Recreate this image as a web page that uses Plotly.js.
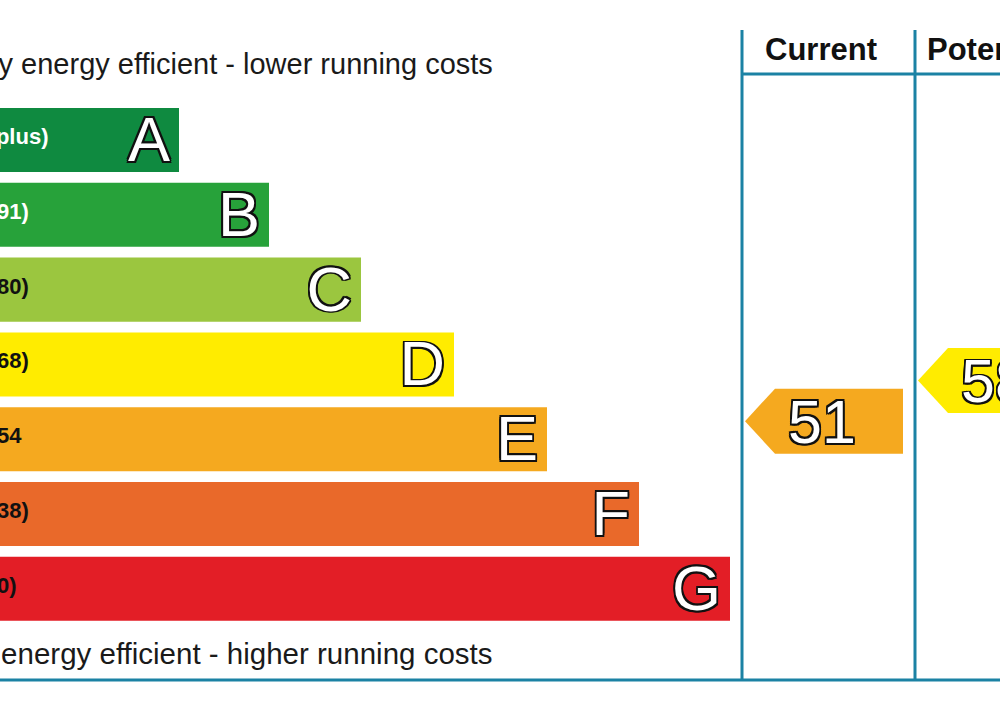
<!DOCTYPE html>
<html><head><meta charset="utf-8">
<script src="https://cdn.plot.ly/plotly-3.0.1.min.js"></script>
<style>html,body{margin:0;padding:0;background:#fff;overflow:hidden}#chart{width:1000px;height:707px}</style>
</head><body><div id="chart"></div>
<script>
// Energy efficiency rating bands
const bands = ['A', 'B', 'C', 'D', 'E', 'F', 'G'];
const bandRanges = ['(92 plus)', '(81-91)', '(69-80)', '(55-68)', '(39-54', '(21-38)', '(1-20)'];
const bandLow = [92, 81, 69, 55, 39, 21, 1];
const bandHigh = [100, 91, 80, 68, 54, 38, 20];
const barLength = [229, 319, 411, 504, 597, 689, 780];

// Ratings shown in the two columns
const columnTitles = ['Current', 'Potential'];
const ratings = [51, 58];
const ratingBand = ['E', 'D'];

const captions = ['Very energy efficient - lower running costs', 'Not energy efficient - higher running costs'];

// Styling
const bandColors = ['#0f8a40', '#27a23a', '#9bc63f', '#ffec00', '#f5a91f', '#e9692a', '#e31e26'];
const rangeTextColors = ['#ffffff', '#ffffff', '#111111', '#111111', '#111111', '#111111', '#111111'];
const frameColor = '#1b82a4';
const FONT = 'Liberation Sans, Arial, sans-serif';
const outline = (w) => [
  [-w, -w], [w, -w], [-w, w], [w, w], [0, w], [0, -w], [w, 0], [-w, 0]
].map(([a, b]) => `${a}px ${b}px 0 #111`).join(', ');

// Geometry (x in chart units, y in row units with A at 0)
const BAR_H = 0.856;
const colLeft = [792, 965];
const colRight = [965, 1138];
const yTop = -1.47, yHeadLine = -0.882, yBottom = 7.22;

const rows = bands.map((_, i) => i);

const traces = [];

// Band bars
traces.push({
  type: 'bar', orientation: 'h',
  y: rows, x: barLength, base: 0, width: BAR_H,
  marker: {color: bandColors, line: {width: 0}},
  hoverinfo: 'skip'
});

// Range labels at the left of each bar
traces.push({
  type: 'scatter', mode: 'text',
  x: bands.map(() => 8), y: rows.map(r => r - 0.02),
  text: bandRanges, textposition: 'middle right',
  textfont: {family: FONT, size: 22, weight: 700, color: rangeTextColors},
  cliponaxis: true, hoverinfo: 'skip'
});

// Band letters at the right end of each bar
traces.push({
  type: 'scatter', mode: 'text',
  x: barLength.map(v => v - 9), y: rows.map(r => r + 0.07),
  text: bands, textposition: 'middle left',
  textfont: {family: FONT, size: 63, color: '#ffffff', shadow: outline(1.8)},
  cliponaxis: true, hoverinfo: 'skip'
});

// Captions above and below the bars
traces.push({
  type: 'scatter', mode: 'text',
  x: [5, -3], y: [-0.98, 6.9],
  text: captions, textposition: 'middle right',
  textfont: {family: FONT, size: [29, 29.5], color: '#1a1a1a'},
  cliponaxis: true, hoverinfo: 'skip'
});

// Column headers
traces.push({
  type: 'scatter', mode: 'text',
  x: [815, 977], y: [-1.18, -1.18],
  text: columnTitles, textposition: 'middle right',
  textfont: {family: FONT, size: 31, weight: 700, color: '#111111'},
  cliponaxis: true, hoverinfo: 'skip'
});

// Rating arrows, placed inside their band row according to the value
ratings.forEach((r, k) => {
  const i = bands.indexOf(ratingBand[k]);
  const frac = (r - bandLow[i] + 0.5) / (bandHigh[i] - bandLow[i] + 1);
  const yc = i + (0.5 - frac) * BAR_H;
  const half = 0.435;
  const tip = colLeft[k] + 3, notch = colLeft[k] + 33, right = colRight[k] - 12;
  traces.push({
    type: 'scatter', mode: 'lines', fill: 'toself',
    x: [tip, notch, right, right, notch, tip],
    y: [yc, yc - half, yc - half, yc + half, yc + half, yc],
    fillcolor: bandColors[i], line: {width: 0, color: bandColors[i]},
    cliponaxis: true, hoverinfo: 'skip'
  });
  traces.push({
    type: 'scatter', mode: 'text',
    x: [(tip + right) / 2 - 2], y: [yc + 0.09],
    text: [String(r)], textposition: 'middle center',
    textfont: {family: FONT, size: 61, color: '#ffffff', shadow: outline(1.8)},
    cliponaxis: true, hoverinfo: 'skip'
  });
});

const line = (x0, y0, x1, y1) => ({
  type: 'line', xref: 'x', yref: 'y', x0, y0, x1, y1,
  line: {color: frameColor, width: 3}, layer: 'above'
});

const layout = {
  width: 1000, height: 707,
  margin: {l: 0, r: 0, t: 0, b: 0, pad: 0},
  paper_bgcolor: '#ffffff', plot_bgcolor: '#ffffff',
  showlegend: false,
  xaxis: {range: [50, 1050], visible: false, fixedrange: true},
  yaxis: {range: [7.58, -1.872], visible: false, fixedrange: true},
  shapes: [
    line(colLeft[0], yTop, colLeft[0], yBottom),
    line(colLeft[1], yTop, colLeft[1], yBottom),
    line(colLeft[0], yHeadLine, 1060, yHeadLine),
    line(40, yBottom, 1060, yBottom)
  ]
};

Plotly.newPlot('chart', traces, layout, {staticPlot: true, displayModeBar: false});
</script>
</body></html>
